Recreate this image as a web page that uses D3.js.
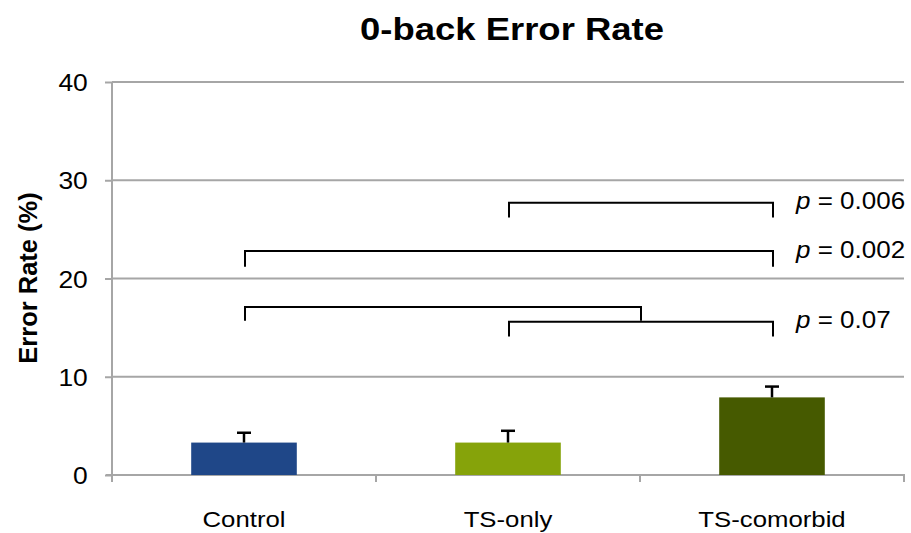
<!DOCTYPE html>
<html><head><meta charset="utf-8">
<script src="https://cdn.jsdelivr.net/npm/d3@7"></script>
<style>body{margin:0;background:#fff}svg{display:block}text{font-family:"Liberation Sans",Arial,sans-serif;fill:#000}</style>
</head><body><svg id="c" width="911" height="533"></svg>
<script>
const categories = ["Control", "TS-only", "TS-comorbid"];
const values = [3.3, 3.3, 7.9];
const errors = [1.0, 1.2, 1.1];
const colors = ["#1f4788", "#86a30a", "#465a00"];
const yTicks = [0, 10, 20, 30, 40];
const title = "0-back Error Rate";
const yLabel = "Error Rate (%)";
// brackets between groups (values on the y scale)
const brackets = [
  {from: "TS-only", to: "TS-comorbid", top: 27.7, leg: 26.2},
  {from: "Control", to: "TS-comorbid", top: 22.8, leg: 21.2},
  {from: "Control", to: "mid", top: 17.1, leg: 15.7},
  {from: "TS-only", to: "TS-comorbid", top: 15.6, leg: 14.1}
];
const pLabels = [{v: "0.006", y: 27.1}, {v: "0.002", y: 22.1}, {v: "0.07", y: 15.0}];

const svg = d3.select("#c");
const x = d3.scaleBand().domain(categories).range([112, 904]).paddingInner(0.6).paddingOuter(0.3);
const y = d3.scaleLinear().domain([0, 40]).range([475, 82]);
const cx = c => x(c) + x.bandwidth() / 2;
const px = c => c === "mid" ? (cx("TS-only") + cx("TS-comorbid")) / 2 : cx(c);
const grid = "#a6a6a6";

// gridlines
svg.append("g").selectAll("line").data(yTicks.filter(d => d > 0)).join("line")
  .attr("x1", 112).attr("x2", 904).attr("y1", d => y(d)).attr("y2", d => y(d))
  .attr("stroke", grid).attr("stroke-width", 2);

// y axis
const ya = svg.append("g").attr("transform", "translate(112,0)")
  .call(d3.axisLeft(y).tickValues(yTicks).tickSize(7).tickPadding(17));
ya.select(".domain").remove();
ya.selectAll("line").attr("stroke", grid).attr("stroke-width", 2);
ya.selectAll("text").attr("font-size", 24).attr("fill", "#000").attr("font-family", "Liberation Sans, Arial, sans-serif")
  .attr("transform", "scale(1.1,1)").attr("x", -22).attr("dy", "0.36em");
svg.append("line").attr("x1", 112).attr("x2", 112).attr("y1", y(40)).attr("y2", 482)
  .attr("stroke", grid).attr("stroke-width", 2);

// x axis
svg.append("line").attr("x1", 106).attr("x2", 905).attr("y1", y(0)).attr("y2", y(0))
  .attr("stroke", grid).attr("stroke-width", 2);
const bounds = categories.map(c => x(c) + x.bandwidth() + x.step() * 0.3);
svg.append("g").selectAll("line").data(bounds).join("line")
  .attr("x1", d => d).attr("x2", d => d).attr("y1", y(0)).attr("y2", y(0) + 7)
  .attr("stroke", grid).attr("stroke-width", 2);
svg.append("g").selectAll("text").data(categories).join("text")
  .attr("transform", d => `translate(${cx(d)},527) scale(1.12,1)`)
  .attr("text-anchor", "middle").attr("font-size", 23).text(d => d);

// bars
svg.append("g").selectAll("rect").data(categories).join("rect")
  .attr("x", d => x(d)).attr("width", x.bandwidth())
  .attr("y", (d, i) => y(values[i])).attr("height", (d, i) => y(0) - y(values[i]))
  .attr("fill", (d, i) => colors[i]);

// error bars
const eb = svg.append("g").attr("stroke", "#000").attr("stroke-width", 2.5);
categories.forEach((c, i) => {
  eb.append("line").attr("x1", cx(c)).attr("x2", cx(c)).attr("y1", y(values[i])).attr("y2", y(values[i] + errors[i]));
  eb.append("line").attr("x1", cx(c) - 7).attr("x2", cx(c) + 7).attr("y1", y(values[i] + errors[i])).attr("y2", y(values[i] + errors[i]));
});

// brackets
const br = svg.append("g").attr("fill", "none").attr("stroke", "#000").attr("stroke-width", 2);
brackets.forEach(b => {
  br.append("path").attr("d", `M${px(b.from) + 1},${y(b.leg)}V${y(b.top)}H${px(b.to) + 1}V${y(b.leg)}`);
});

// p labels
const pl = svg.append("g").selectAll("text").data(pLabels).join("text")
  .attr("transform", d => `translate(796,${y(d.y)}) scale(1.13,1)`)
  .attr("font-size", 23);
pl.append("tspan").attr("font-style", "italic").text("p");
pl.append("tspan").text(d => " = " + d.v);

// title
svg.append("text").attr("transform", "translate(512,40) scale(1.14,1)").attr("text-anchor", "middle")
  .attr("font-size", 32).attr("font-weight", "bold").text(title);

// y label
svg.append("text").attr("transform", "translate(37,278) rotate(-90)").attr("text-anchor", "middle")
  .attr("font-size", 25.5).attr("font-weight", "bold").text(yLabel);
</script></body></html>
